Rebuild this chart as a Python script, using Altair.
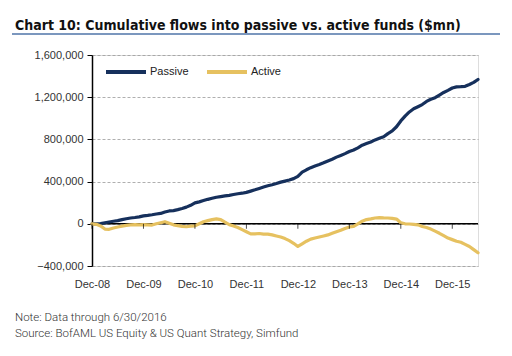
import altair as alt
import pandas as pd

# Months from Dec-08 to Jun-16 (index 0..90)
months = [d.strftime("%b-%y") for d in pd.date_range("2008-12-01", "2016-06-01", freq="MS")]

# Cumulative flows ($mn), in thousands
passive_k = [
    0, 0, 3, 10, 17, 24, 30, 40, 48, 55, 60, 66,
    75, 80, 86, 93, 98, 112, 122, 125, 134, 145, 158, 175,
    198, 208, 220, 232, 242, 252, 258, 264, 270, 278, 285, 290,
    298, 310, 322, 335, 348, 360, 370, 382, 395, 405, 415, 428,
    450, 490, 512, 532, 548, 562, 578, 596, 612, 632, 648, 665,
    685, 700, 720, 745, 760, 775, 795, 810, 825, 855, 880, 920,
    975, 1020, 1060, 1090, 1110, 1130, 1160, 1180, 1195, 1220, 1245, 1265,
    1287, 1298, 1300, 1303, 1320, 1340, 1368,
]
active_k = [
    0, -5, -20, -50, -52, -40, -30, -22, -15, -10, -8, -10,
    -8, -10, -12, 0, 10, 20, 5, -10, -18, -25, -28, -22,
    -20, 0, 20, 30, 40, 47, 40, 15, -8, -20, -35, -55,
    -75, -95, -95, -92, -98, -98, -105, -115, -125, -140, -160, -185,
    -215, -190, -165, -145, -135, -125, -115, -105, -90, -75, -62, -45,
    -30, -25, 0, 25, 40, 47, 55, 58, 56, 55, 52, 45,
    10, 0, -2, -5, -10, -25, -35, -50, -70, -90, -112, -135,
    -150, -165, -175, -195, -215, -245, -275,
]

series_names = ["Passive", "Active"]
series_colors = ["#16305c", "#e6c160"]
tick_labels = ["Dec-08", "Dec-09", "Dec-10", "Dec-11", "Dec-12", "Dec-13", "Dec-14", "Dec-15"]
y_ticks = [-400000, 0, 400000, 800000, 1200000, 1600000]

title_text = "Chart 10: Cumulative flows into passive vs. active funds ($mn)"
note_text = "Note: Data through 6/30/2016"
source_text = "Source: BofAML US Equity & US Quant Strategy, Simfund"

rows = []
for i, m in enumerate(months):
    rows.append({"idx": i, "month": m, "series": "Passive", "value": passive_k[i] * 1000})
    rows.append({"idx": i, "month": m, "series": "Active", "value": active_k[i] * 1000})
df = pd.DataFrame(rows)

label_expr = "[" + ",".join("'" + t + "'" for t in tick_labels) + "][round(datum.value/12)]"
tick_vals = [12 * k for k in range(len(tick_labels))]

xscale = alt.Scale(domain=[0, len(months) - 1], nice=False, zero=False)
yscale = alt.Scale(domain=[-400000, 1600000], nice=False)

lines = alt.Chart(df).mark_line(strokeWidth=3.2, strokeJoin="round", strokeCap="round").encode(
    x=alt.X("idx:Q", scale=xscale,
            axis=alt.Axis(values=tick_vals, labelExpr=label_expr, title=None,
                          domain=False, ticks=False, grid=False, labelOverlap=False,
                          labelFlush=False,
                          labelFont="Liberation Sans", labelFontSize=11,
                          labelColor="#333333", labelPadding=12)),
    y=alt.Y("value:Q", scale=yscale,
            axis=alt.Axis(values=y_ticks, format=",d", title=None,
                          domain=True, domainColor="#000000", domainWidth=1.5,
                          ticks=True, tickSize=5, tickColor="#000000",
                          grid=True, gridColor="#9a9a9a", gridDash=[3, 2], gridWidth=0.8,
                          labelFont="Liberation Sans", labelFontSize=11,
                          labelColor="#333333", labelPadding=4)),
    color=alt.Color("series:N", scale=alt.Scale(domain=series_names, range=series_colors),
                    sort=series_names,
                    legend=alt.Legend(orient="none", legendX=12, legendY=-5,
                                      direction="horizontal", title=None,
                                      symbolType="stroke", symbolSize=1600,
                                      symbolStrokeWidth=4, labelOffset=2,
                                      columnPadding=10,
                                      labelFont="Liberation Sans", labelFontSize=11,
                                      labelColor="#222222")),
    order=alt.Order("idx:Q"),
)

# zero axis line with downward ticks
zero_ticks = alt.Chart(pd.DataFrame({"idx": tick_vals, "v": [0] * len(tick_vals)})).mark_tick(
    orient="vertical", color="#000000", thickness=1, size=5, yOffset=2.5
).encode(x=alt.X("idx:Q", scale=xscale), y=alt.Y("v:Q", scale=yscale))

zero_rule = alt.Chart(pd.DataFrame({"v": [0]})).mark_rule(color="#000000", strokeWidth=1.5).encode(
    y=alt.Y("v:Q", scale=yscale)
)

title = alt.Chart(pd.DataFrame({"t": [title_text]})).mark_text(
    align="left", baseline="alphabetic", font="DejaVu Sans Condensed", fontWeight="bold",
    fontSize=14, color="#111111"
).encode(x=alt.value(-77), y=alt.value(-25), text="t:N")

underline = alt.Chart(pd.DataFrame({"t": [0]})).mark_rule(color="#4f74a8", strokeWidth=1.5).encode(
    x=alt.value(-80), x2=alt.value(408), y=alt.value(-21)
)

note = alt.Chart(pd.DataFrame({"t": [note_text]})).mark_text(
    align="left", baseline="alphabetic", font="Roboto", fontSize=11.5,
    fontWeight=300, color="#333333"
).encode(x=alt.value(-77), y=alt.value(266), text="t:N")

source = alt.Chart(pd.DataFrame({"t": [source_text]})).mark_text(
    align="left", baseline="alphabetic", font="Roboto", fontSize=11.5,
    fontWeight=300, color="#333333"
).encode(x=alt.value(-77), y=alt.value(282), text="t:N")

chart = alt.layer(zero_rule, lines, zero_ticks, title, underline, note, source).properties(
    width=386, height=211,
    autosize=alt.AutoSizeParams(type="none"),
    padding={"left": 92, "top": 55, "right": 34, "bottom": 90},
).configure_view(stroke=None).configure(background="white")

chart.save("out.html", embed_options={"renderer": "svg", "actions": False})
